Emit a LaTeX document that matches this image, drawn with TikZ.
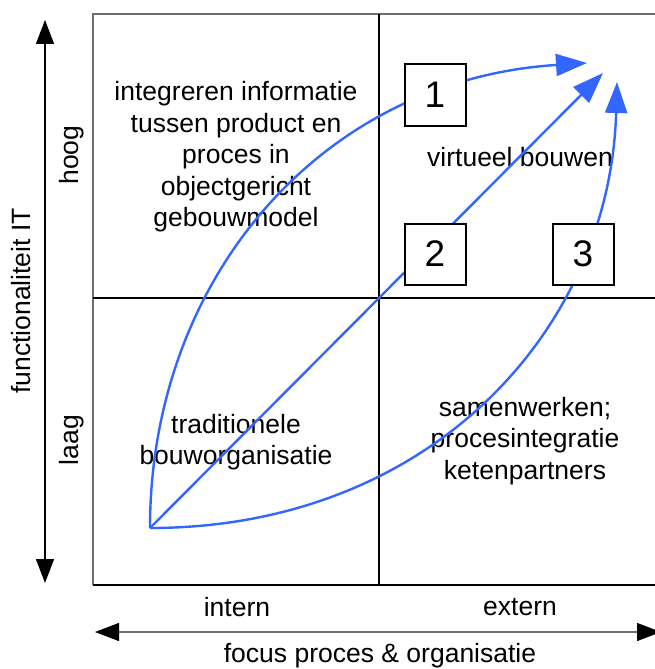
\documentclass[tikz,border=0pt]{standalone}
\usepackage{fontspec}
\setmainfont{Liberation Sans}
\usetikzlibrary{arrows.meta}
\definecolor{arrowblue}{RGB}{51,102,255}
\definecolor{framegray}{RGB}{110,110,110}
\tikzset{
  lbl/.style={font=\fontsize{26.5}{31.5}\selectfont, align=center, inner sep=0pt},
  numbox/.style={draw=black, line width=2pt, fill=white, minimum size=61pt, inner sep=0pt, font=\fontsize{37}{40}\selectfont},
  flow/.style={draw=arrowblue, line width=2.4pt, -{Triangle[length=31pt,width=22pt]}},
  axis/.style={line width=1.3pt, {Triangle[length=24pt,width=18pt,black]}-{Triangle[length=24pt,width=18pt,black]}},
  frame/.style={line width=1.4pt}
}
\begin{document}
\begin{tikzpicture}[x=1pt,y=-1pt]
\useasboundingbox (0,0) rectangle (655,669);
% frame
\draw[frame, draw=framegray] (93,585) -- (93,14) -- (680,14);
\draw[frame] (93,585) -- (680,585);
\draw[line width=1.1pt] (379,14) -- (379,585);
\draw[line width=1.1pt] (93,298) -- (680,298);
% axes
\coordinate (vtop) at (45,20);
\coordinate (vbot) at (45,583);
\coordinate (hl) at (95,632);
\coordinate (hr) at (661,632);
\draw[axis, black] (vtop) -- (vbot);
\draw[axis, draw=framegray] (hl) -- (hr);
% quadrant texts
\node[lbl] (tl) at (236,157) {integreren informatie\\tussen product en\\proces in\\objectgericht\\gebouwmodel};
\node[lbl] (tr) at (520,157) {virtueel bouwen};
\node[lbl] (bl) at (236,442) {traditionele\\bouworganisatie};
\node[lbl] (br) at (525,441) {samenwerken;\\procesintegratie\\ketenpartners};
% axis labels
\node[lbl] (intern) at (237,607) {intern};
\node[lbl] (extern) at (520,607) {extern};
\node[lbl] (focus) at (380,656) {focus proces \& organisatie};
\node[lbl, rotate=90] (func) at (21,301) {functionaliteit IT};
\node[lbl, rotate=90] (hoog) at (72,155) {hoog};
\node[lbl, rotate=90] (laag) at (72,440) {laag};
% flows
\coordinate (S) at (150,528);
\coordinate (T1) at (587,63);
\coordinate (T2) at (603,73);
\coordinate (T3) at (617,82);
\draw[flow] (S) .. controls (150,280) and (320,80) .. (T1);
\draw[flow] (S) -- (T2);
\draw[flow] (S) .. controls (430,528) and (610,330) .. (T3);
% numbered boxes
\node[numbox] (b1) at (435,95) {1};
\node[numbox] (b2) at (435,254) {2};
\node[numbox] (b3) at (583,254) {3};
\end{tikzpicture}
\end{document}
